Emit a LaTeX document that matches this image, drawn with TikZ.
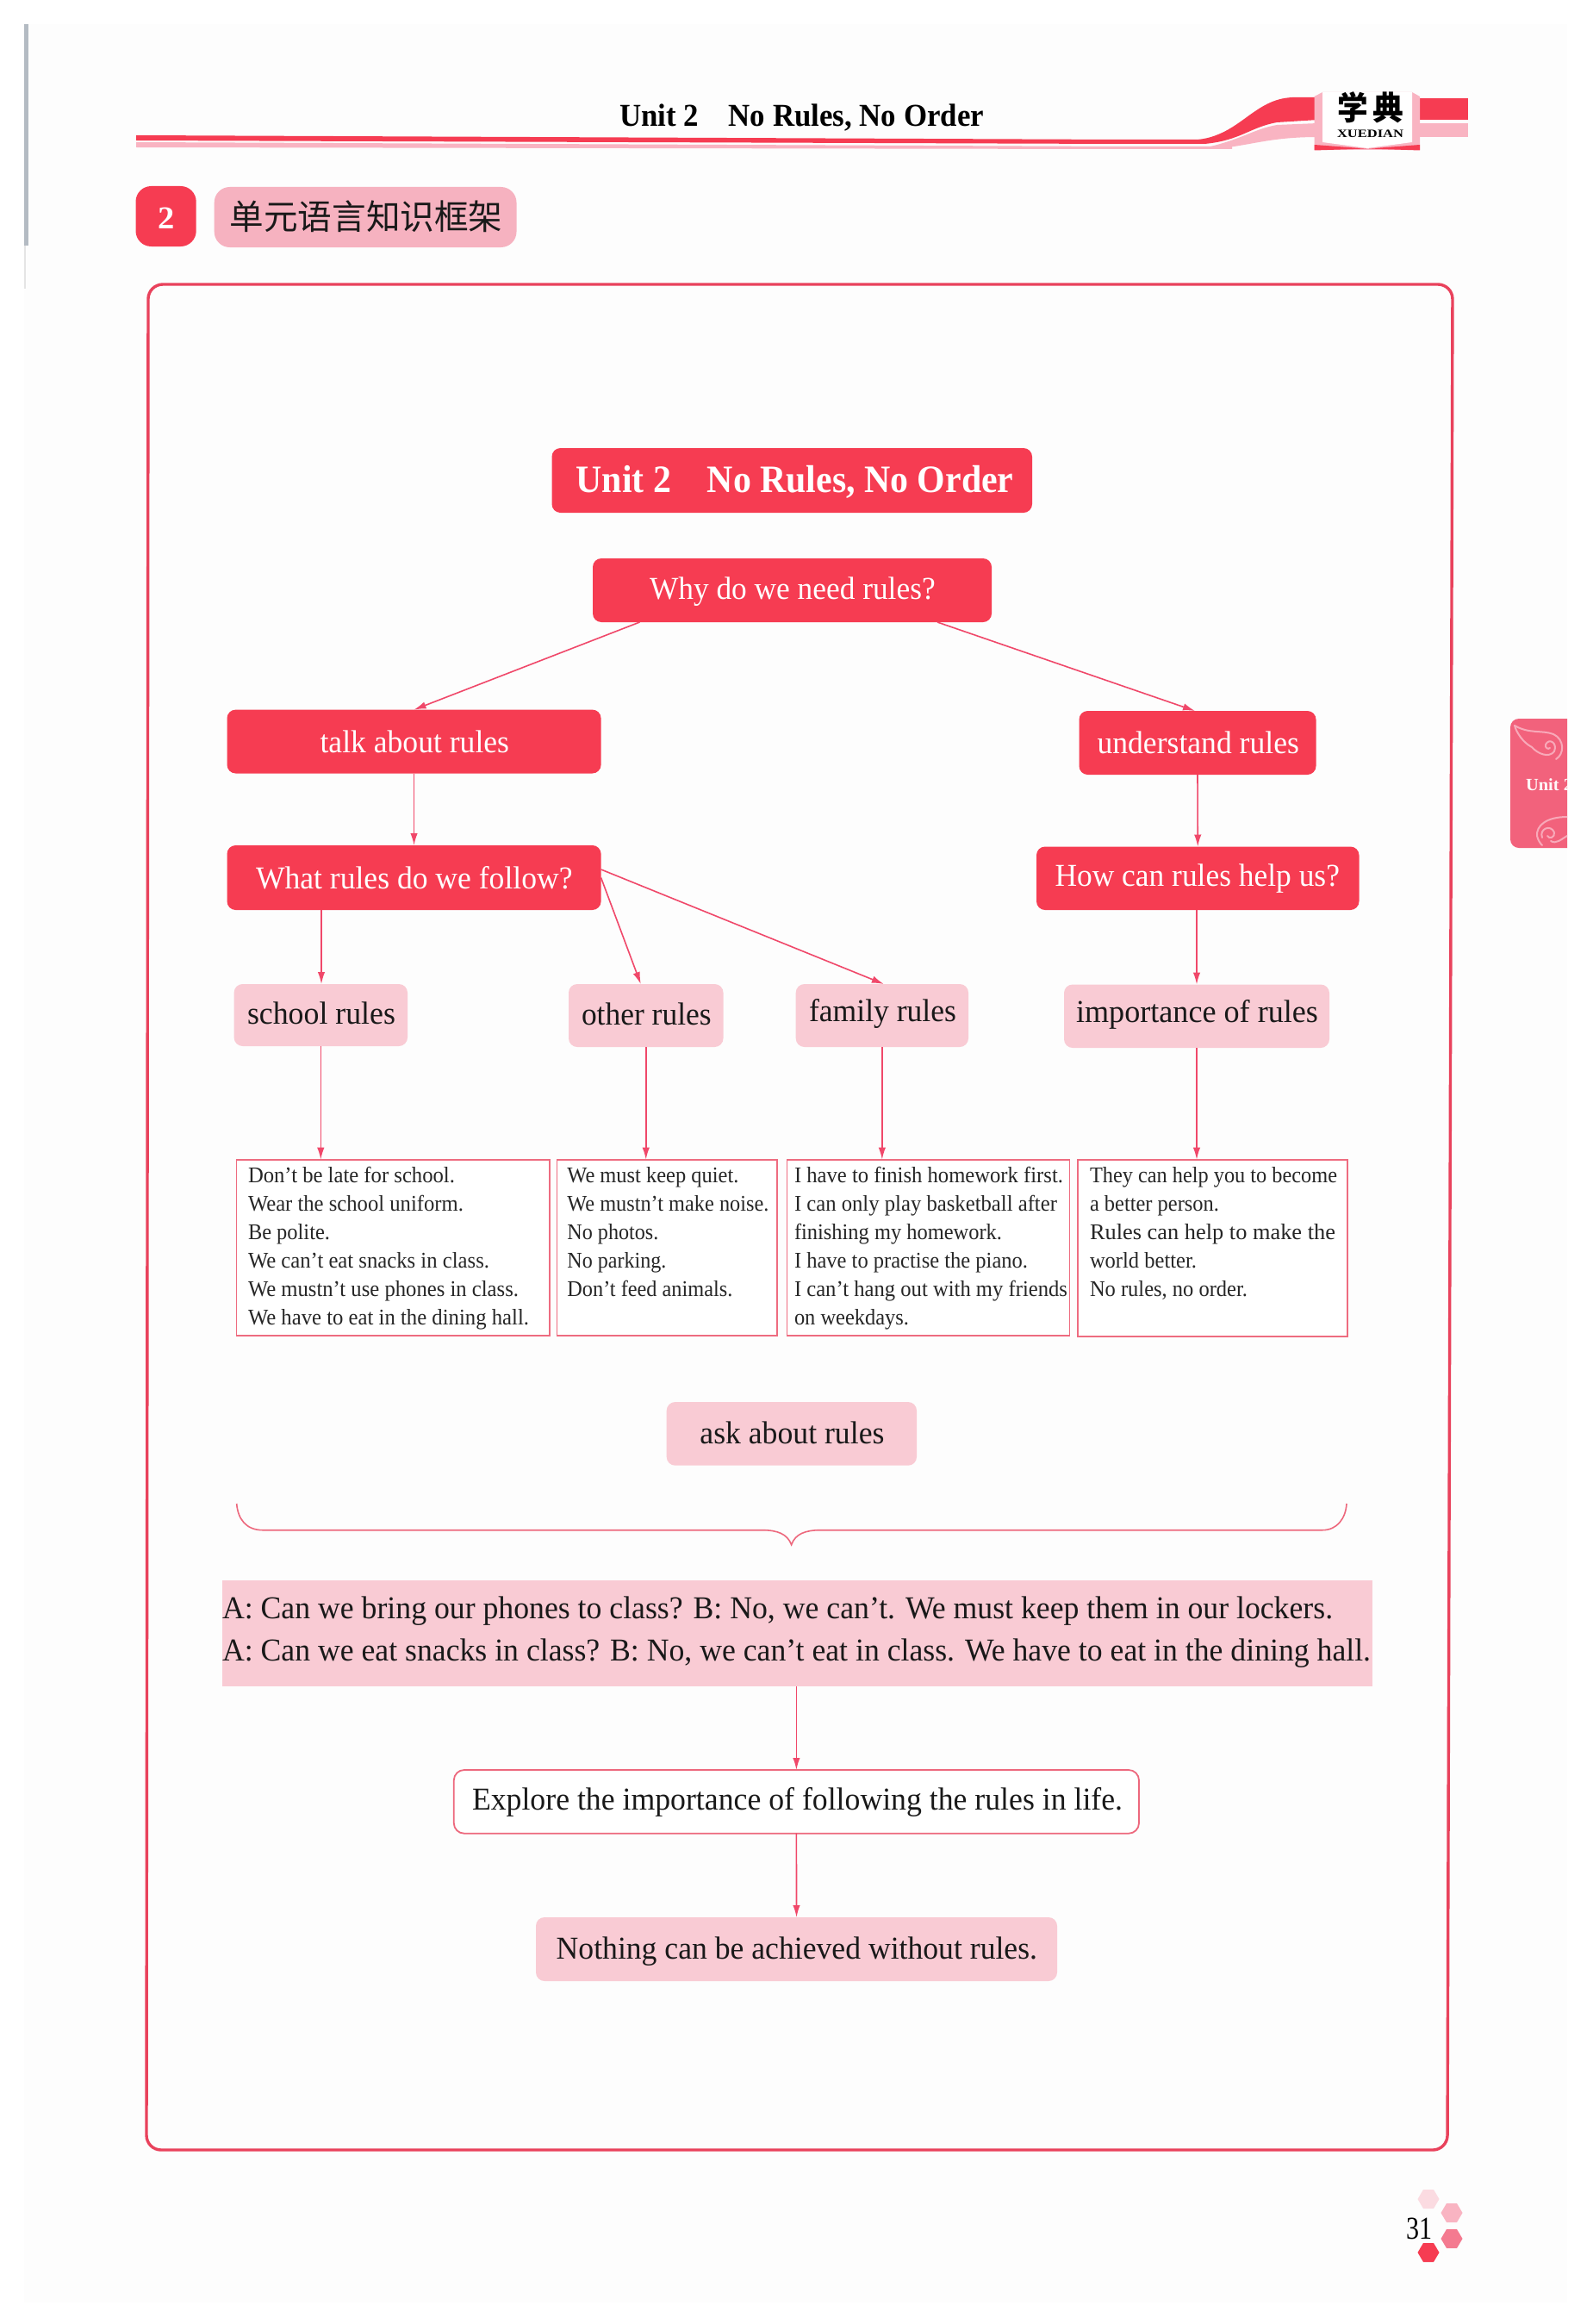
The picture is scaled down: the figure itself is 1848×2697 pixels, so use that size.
\documentclass[tikz,border=0pt]{standalone}
\usepackage{fontspec}
\usepackage{graphicx}
\setmainfont{Liberation Serif}
\newfontfamily\cjk{Noto Sans CJK SC}
\usetikzlibrary{arrows.meta}
\definecolor{pagebg}{HTML}{FDFDFD}
\definecolor{edgegray}{HTML}{B4BBC3}
\definecolor{brred}{HTML}{F63C52}
\definecolor{brpink}{HTML}{F9CBD4}
\definecolor{secpink}{HTML}{F6B2C0}
\definecolor{ribpink}{HTML}{F9B4C2}
\definecolor{linered}{HTML}{F0486A}
\definecolor{framered}{HTML}{E9425C}
\definecolor{tabred}{HTML}{F2627C}
\definecolor{wing}{HTML}{F8A9B9}
\newdimen\pxu \pxu=0.5pt
\newcommand\lw[2]{\resizebox{#1\pxu}{\height}{#2}}
\def\bx#1|#2|#3,#4,#5,#6|#7,#8,#9|{%
  \pgfmathsetlengthmacro\bxw{(#4-#3)*0.5}%
  \pgfmathsetlengthmacro\bxh{(#7-#5)*0.5}%
  \pgfmathsetlengthmacro\bxd{(#6-#7)*0.5}%
  \pgfmathsetlengthmacro\bxo{(#8-#3)*0.5}%
  \pgfmathsetlengthmacro\bxt{(#9-#8)*0.5}%
  \tikzset{bxcur/.style={#1}}%
  \def\bxname{#2}\def\bxx{#3}\def\bxy{#5}\bxnode}
\def\bxnode#1{\node[bxcur,inner sep=0pt,outer sep=0pt,anchor=north west,text height=\bxh,text depth=\bxd] (\bxname) at (\bxx,\bxy) {\makebox[\bxw][l]{\hspace*{\bxo}\resizebox{\bxt}{\height}{#1}}};}
\newcommand\lbox[7]{%
  \pgfmathsetlengthmacro\bxw{(#3-#2-#6)*0.5}%
  \pgfmathsetlengthmacro\bxh{(#5-#4)*0.5}%
  \pgfmathsetlengthmacro\bxo{#6*0.5}%
  \node[listbox,anchor=north west] (#1) at (#2,#4) {\hspace*{\bxo}\parbox[c][\bxh][t]{\bxw}{\baselineskip=16.5pt\lineskiplimit=-100pt\rule{0pt}{13.5pt}#7}};}
\tikzset{
  fsA/.style={font=\fontsize{18.5pt}{22pt}\selectfont},
  redbox/.style={fill=brred,rounded corners=5pt,text=white,fsA},
  pinkbox/.style={fill=brpink,rounded corners=5pt,text=black!90,fsA},
  titlebox/.style={fill=brred,rounded corners=5pt,text=white,font=\fontsize{22.5pt}{26pt}\selectfont\bfseries},
  outlinebox/.style={draw=framered!80,line width=0.9pt,fill=white,rounded corners=6pt,text=black!90,fsA},
  listbox/.style={draw=framered!78,line width=0.9pt,fill=white,inner sep=0pt,outer sep=0pt,text=black!85,font=\fontsize{13pt}{16.5pt}\selectfont},
  bandbox/.style={fill=brpink,inner sep=0pt,outer sep=0pt,text=black!90,font=\fontsize{18.5pt}{24.5pt}\selectfont},
  plain/.style={text=black,font=\fontsize{18pt}{22pt}\selectfont},
  conn/.style={draw=linered,line width=0.8pt,-{Latex[length=7pt,width=4.2pt]}},
  framepath/.style={draw=framered,line width=1.7pt,rounded corners=8.5pt},
  wingline/.style={draw=wing,line width=1pt,line cap=round}
}
\begin{document}
\begin{tikzpicture}[x=0.5pt,y=-0.5pt]
\useasboundingbox (0,0) rectangle (1848,2697);
\fill[white] (0,0) rectangle (1848,2697);
\fill[pagebg] (28,28) rectangle (1819,2672);
% left scan edge
\fill[edgegray] (28,28) rectangle (33,285);
\fill[black!10] (28,285) rectangle (30,335);
% header rules and ribbon
\fill[ribpink] (158,165) -- (1300,170) -- (1430,170) -- (1430,173) -- (1300,173) -- (158,171) -- cycle;
\fill[ribpink] (1530,143) -- (1482,145) .. controls (1455,150) and (1445,160) .. (1405,170) -- (1405,173)
  .. controls (1450,170) and (1470,159) .. (1530,159) -- cycle;
\fill[brred] (158,157) -- (1300,162) -- (1400,162) -- (1400,167) -- (1300,167) -- (158,163) -- cycle;
\fill[brred] (1391,162) .. controls (1440,156) and (1455,115) .. (1500,113) -- (1530,113) -- (1530,139) -- (1482,142)
  .. controls (1450,148) and (1440,163) .. (1398,167) -- cycle;
\fill[brred] (1646,114) rectangle (1704,139);
\fill[ribpink] (1646,142.7) rectangle (1704,159);
% book logo
\fill[ribpink] (1525.5,174) -- (1525.5,112) -- (1535,107) -- (1639,107) -- (1648,112) -- (1648,174) -- cycle;
\fill[white] (1535,107) -- (1639,107) -- (1639,165) -- (1587,172) -- (1535,165) -- cycle;
\fill[brred] (1525.5,168) -- (1586,172.5) -- (1525.5,174.5) -- cycle;
\fill[brred] (1648,168) -- (1589,172.5) -- (1648,174.5) -- cycle;
\bx {text=black,font=\fontsize{19pt}{22pt}\selectfont\cjk\bfseries}|logo|1552,1629,105,148|140,1552,1629|{学\hspace{3pt}典}
\bx {text=black,font=\fontsize{6.5pt}{8pt}\selectfont\bfseries}|logoen|1552,1629,148,165|160,1552,1629|{XUEDIAN}
\bx {plain,font=\fontsize{18.5pt}{22pt}\selectfont\bfseries}|header|719,1142,115,158|147,719,1142|{Unit 2\quad No Rules, No Order}
% section marker
\bx {redbox,rounded corners=9pt,text=white,font=\fontsize{18.5pt}{22pt}\selectfont\bfseries}|secnum|157.5,227.7,216,286|265,183.7,203|{2}
\bx {fill=secpink,rounded corners=9pt,text=black!90,font=\fontsize{20pt}{24pt}\selectfont\cjk}|sectitle|248.7,599.5,217,287|266,266.6,583.5|{单元语言知识框架}
% side tab
\begin{scope}
\clip (1740,825) rectangle (1819,990);
\fill[tabred,rounded corners=5pt] (1753,834) rectangle (1860,984);
\draw[wingline] (1758,842) .. controls (1775,852) and (1790,847) .. (1803,852) .. controls (1816,858) and (1816,875) .. (1806,881);
\draw[wingline] (1758,842) .. controls (1760,850) and (1768,862) .. (1778,867) .. controls (1785,875) and (1798,880) .. (1804,872)
  .. controls (1808,862) and (1798,856) .. (1794,864) .. controls (1793,868) and (1797,870) .. (1799,868);
\draw[wingline] (1819,948) .. controls (1795,948) and (1783,958) .. (1784,970) .. controls (1785,975) and (1788,979) .. (1790,981);
\draw[wingline] (1790,972) .. controls (1786,962) and (1800,956) .. (1804,966) .. controls (1805,972) and (1798,974) .. (1796,970);
\draw[wingline] (1800,976) .. controls (1806,980) and (1812,974) .. (1819,970);
\bx {text=white!90!pink,font=\fontsize{10pt}{12pt}\selectfont\bfseries}|tabtext|1771,1825,900,925|917,1771,1825|{Unit 2}
\end{scope}
% outer frame
\draw[framepath] (172,330) -- (1686,330) -- (1680,2495) -- (170,2495) -- cycle;
% main nodes
\bx {titlebox}|title|640.5,1198,520,595|571,668.6,1176.5|{Unit 2\quad No Rules, No Order}
\bx {redbox}|why|688,1151,648,722|695,754,1085.7|{Why do we need rules?}
\bx {redbox}|talk|263.5,697.6,823.6,897.5|873,371.6,591|{talk about rules}
\bx {redbox}|understand|1252.5,1527.5,825,899|874,1273.5,1508|{understand rules}
\bx {redbox}|what|263.5,697.6,981,1056|1031,297,664.5|{What rules do we follow?}
\bx {redbox}|how|1203,1577.5,982.5,1056|1028,1224.5,1555|{How can rules help us?}
\bx {pinkbox}|school|271.6,473,1142,1214|1188,287,459|{school rules}
\bx {pinkbox}|other|660,839.5,1142,1215|1189,675,825.7|{other rules}
\bx {pinkbox}|family|923.7,1124,1142,1215|1185,939,1110|{family rules}
\bx {pinkbox}|importance|1235,1543,1142.5,1216|1186,1249,1530|{importance of rules}
\lbox{rulesA}{274.5}{638}{1345.7}{1550}{13.5}{\lw{240}{Don’t be late for school.}\\\lw{250}{Wear the school uniform.}\\\lw{95}{Be polite.}\\\lw{280}{We can’t eat snacks in class.}\\\lw{314}{We mustn’t use phones in class.}\\\lw{326}{We have to eat in the dining hall.}}
\lbox{rulesB}{646.4}{902}{1345.7}{1550}{12}{\lw{199}{We must keep quiet.}\\\lw{234}{We mustn’t make noise.}\\\lw{106}{No photos.}\\\lw{115}{No parking.}\\\lw{192}{Don’t feed animals.}}
\lbox{rulesC}{913.4}{1241.5}{1345.7}{1550}{8.6}{\lw{312}{I have to finish homework first.}\\\lw{305}{I can only play basketball after}\\\lw{241}{finishing my homework.}\\\lw{271}{I have to practise the piano.}\\\lw{317}{I can’t hang out with my friends}\\\lw{133}{on weekdays.}}
\lbox{rulesD}{1251}{1564}{1345.7}{1551}{14}{\lw{287}{They can help you to become}\\\lw{150}{a better person.}\\\lw{285}{Rules can help to make the}\\\lw{124}{world better.}\\\lw{183}{No rules, no order.}}
\bx {pinkbox}|ask|773.7,1064,1627,1700.7|1675,812.4,1026.5|{ask about rules}
\node[bandbox,anchor=north west] (band) at (258,1834) {\parbox[c][61.5pt][t]{667.5pt}{\baselineskip=24.5pt\lineskiplimit=-100pt\rule{0pt}{22pt}\lw{1289}{A: Can we bring our phones to class? B: No, we can’t. We must keep them in our lockers.}\\\lw{1333}{A: Can we eat snacks in class? B: No, we can’t eat in class. We have to eat in the dining hall.}}};
\bx {outlinebox}|explore|526.8,1322,2054,2127.7|2100,548,1303|{Explore the importance of following the rules in life.}
\bx {pinkbox}|nothing|622,1227,2225,2299|2273,645.7,1204|{Nothing can be achieved without rules.}
% brace
\draw[draw=framered!80,line width=0.8pt] (274.7,1745) .. controls (276,1762) and (285,1775.7) .. (305,1775.7) -- (885,1775.7)
  .. controls (902,1775.7) and (914,1780) .. (918.6,1792.7) .. controls (923,1780) and (935,1775.7) .. (952,1775.7)
  -- (1535,1775.7) .. controls (1552,1775.7) and (1562,1762) .. (1563,1745);
% connectors
\draw[conn] ([xshift=27.25pt]why.south west) -- (talk.north);
\draw[conn] ([xshift=-31.5pt]why.south east) -- ([xshift=-1.5pt]understand.north);
\draw[conn] (talk.south) -- (what.north);
\draw[conn] (understand.south) -- (how.north);
\draw[conn] ([xshift=54.75pt]what.south west) -- ([xshift=54.75pt]what.south west |- school.north);
\draw[conn] (what.east) -- ([xshift=-3pt]other.north);
\draw[conn] ([yshift=4.75pt]what.east) -- ([xshift=1pt]family.north);
\draw[conn] (how.south -| importance.north) -- (importance.north);
\draw[conn] (school.south) -- (school.south |- rulesA.north);
\draw[conn] (other.south) -- (other.south |- rulesB.north);
\draw[conn] (family.south) -- (family.south |- rulesC.north);
\draw[conn] (importance.south) -- (importance.south |- rulesD.north);
\draw[conn] (explore.north |- band.south) -- (explore.north);
\draw[conn] (explore.south) -- (nothing.north);
% page number and hexagons
\bx {text=black,font=\fontsize{18.5pt}{22pt}\selectfont}|pagenum|1630,1664,2565,2610|2598,1632,1662|{31}
\foreach \hx/\hy/\hc in {1658/2552/brpink!70,1685/2568/ribpink,1685/2598/tabred!85,1658/2614/brred}{
  \fill[\hc] (\hx-12.5,\hy) -- (\hx-6,\hy-11) -- (\hx+6,\hy-11) -- (\hx+12.5,\hy) -- (\hx+6,\hy+11) -- (\hx-6,\hy+11) -- cycle;
}
\end{tikzpicture}
\end{document}
